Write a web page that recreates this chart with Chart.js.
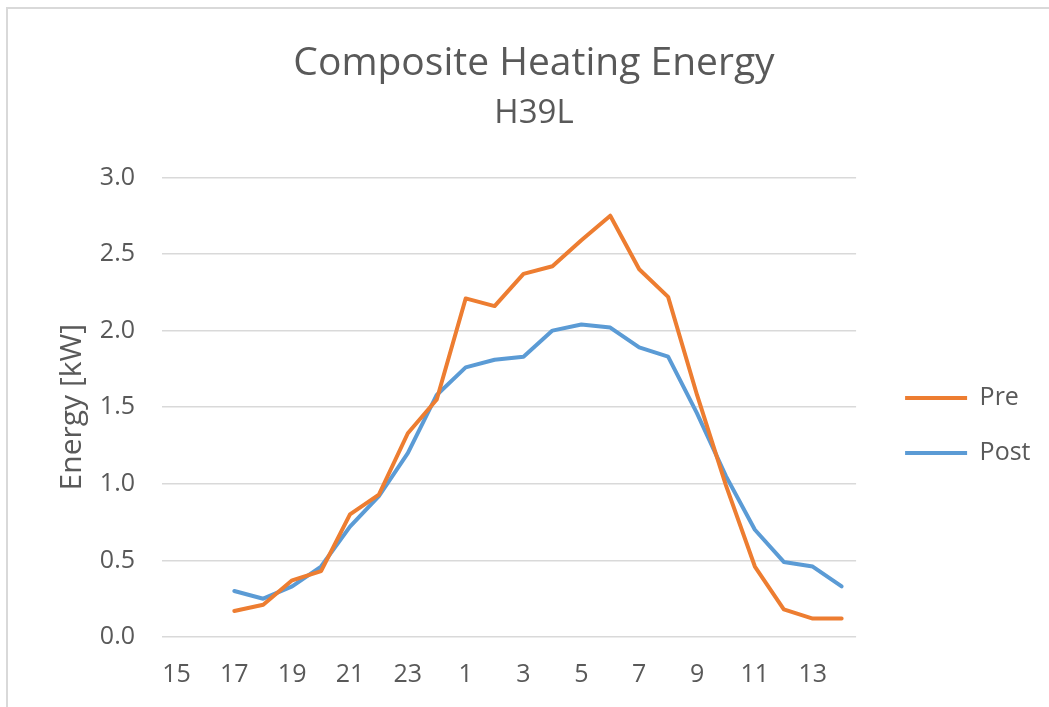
<!DOCTYPE html>
<html><head><meta charset="utf-8">
<script src="https://cdn.jsdelivr.net/npm/chart.js@4.4.1/dist/chart.umd.min.js"></script>
<style>
html,body{margin:0;padding:0;background:#fff;width:1049px;height:707px;overflow:hidden}
#frame{position:absolute;left:6px;top:7px;width:1100px;height:800px;border-left:2px solid #d9d9d9;border-top:2px solid #d9d9d9}
#wrap{position:absolute;left:0;top:0;width:1049px;height:707px}
</style></head><body>
<div id="frame"></div>
<div id="wrap"><canvas id="c" width="1049" height="707"></canvas></div>
<script>
const categories = ['15','16','17','18','19','20','21','22','23','24','1','2','3','4','5','6','7','8','9','10','11','12','13','14'];
const preValues  = [null,null,0.17,0.21,0.37,0.43,0.80,0.93,1.33,1.55,2.21,2.16,2.37,2.42,2.59,2.75,2.40,2.22,1.58,0.99,0.46,0.18,0.12,0.12];
const postValues = [null,null,0.30,0.25,0.33,0.46,0.72,0.92,1.20,1.58,1.76,1.81,1.83,2.00,2.04,2.02,1.89,1.83,1.46,1.05,0.70,0.49,0.46,0.33];
const yTicks = [0,0.5,1.0,1.5,2.0,2.5,3.0];

Chart.defaults.font.family = "'Open Sans', sans-serif";
Chart.defaults.color = '#595959';

new Chart(document.getElementById('c'), {
  type: 'line',
  data: {
    labels: categories,
    datasets: [
      {label:'Pre', data:preValues, borderColor:'#ED7D31', backgroundColor:'#ED7D31', borderWidth:4, pointRadius:0, tension:0, borderJoinStyle:'round', borderCapStyle:'round'},
      {label:'Post', data:postValues, borderColor:'#5B9BD5', backgroundColor:'#5B9BD5', borderWidth:4, pointRadius:0, tension:0, borderJoinStyle:'round', borderCapStyle:'round'}
    ]
  },
  options: {
    responsive:false, animation:false, devicePixelRatio:1,
    layout:{padding:{left:27.5, right:8.5, top:0, bottom:0}},
    plugins:{
      title:{display:true, text:'Composite Heating Energy', color:'#595959', font:{size:39, weight:'normal'}, padding:{top:40,bottom:0}},
      subtitle:{display:true, text:'H39L', color:'#595959', font:{size:33, weight:'normal'}, padding:{top:7,bottom:44}},
      legend:{position:'right', align:'start',
        title:{display:true, text:' ', padding:{top:319.5,bottom:0}, font:{size:30}},
        labels:{boxWidth:62, boxHeight:4, padding:30, color:'#595959', font:{size:25},
          generateLabels:(chart)=>Chart.defaults.plugins.legend.labels.generateLabels(chart).map(l=>({...l, lineWidth:0}))}},
      tooltip:{enabled:false}
    },
    scales:{
      x:{offset:true, grid:{display:false, offset:true}, border:{display:false},
         afterFit:(s)=>{s.height = 70;},
         ticks:{autoSkip:false, maxRotation:0, padding:15, color:'#595959', font:{size:25}, callback:(v,i)=> i%2===0 ? categories[i] : ''}},
      y:{min:0, max:3, afterBuildTicks:(s)=>{s.ticks = yTicks.map(v=>({value:v}));},
         afterFit:(s)=>{s.width = 134.5;},
         ticks:{padding:27, color:'#595959', font:{size:25}, callback:(v)=>Number(v).toFixed(1)},
         grid:{color:'#d9d9d9', lineWidth:1.5, drawTicks:false}, border:{display:false},
         title:{display:true, text:'Energy [kW]', color:'#595959', font:{size:30}, padding:{top:26.5,bottom:10}}},
      gap:{type:'linear', position:'right', display:true, grid:{display:false}, border:{display:false}, ticks:{display:false},
         afterFit:(s)=>{s.width = 19;}}
    }
  }
});
</script>
</body></html>
